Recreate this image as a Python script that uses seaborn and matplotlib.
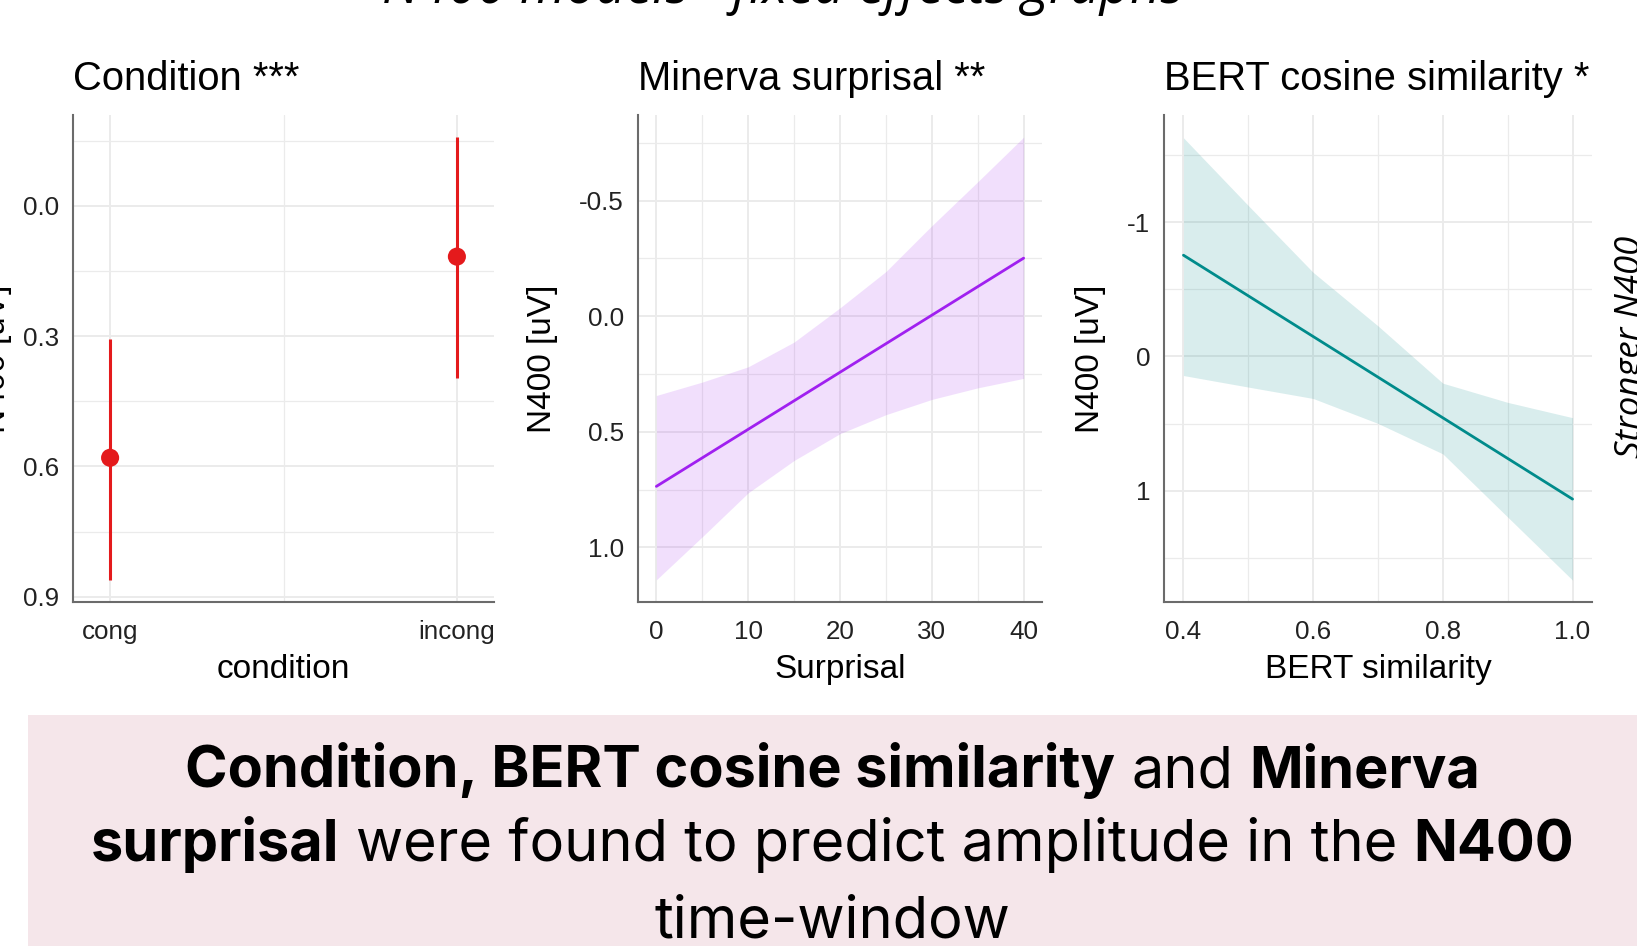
import numpy as np
import pandas as pd
import matplotlib
matplotlib.use("Agg")
import matplotlib.pyplot as plt
import seaborn as sns
from matplotlib.ticker import FixedLocator, FormatStrFormatter
from matplotlib.patches import Rectangle

# ---------------- data ----------------
conditions = ["cong", "incong"]
cond_estimate = [0.58, 0.117]
cond_ci_low = [0.306, -0.158]
cond_ci_high = [0.861, 0.396]

surprisal_fit_x = [0, 40]
surprisal_fit = [0.736, -0.251]
surprisal_x = [0, 5, 10, 15, 20, 25, 30, 35, 40]
surprisal_ci_a = [0.343, 0.285, 0.219, 0.112, -0.036, -0.193, -0.391, -0.581, -0.774]
surprisal_ci_b = [1.140, 0.954, 0.764, 0.624, 0.508, 0.426, 0.360, 0.310, 0.269]

bert_fit_x = [0.4, 1.0]
bert_fit = [-0.755, 1.063]
bert_x = [0.4, 0.5, 0.6, 0.7, 0.8, 0.9, 1.0]
bert_ci_a = [-1.630, -1.125, -0.627, -0.228, 0.199, 0.342, 0.456]
bert_ci_b = [0.142, 0.228, 0.313, 0.499, 0.726, 1.197, 1.667]

panel_titles = ["Condition ***", "Minerva surprisal **", "BERT cosine similarity *"]
x_titles = ["condition", "Surprisal", "BERT similarity"]
y_title = "N400 [uV]"
main_title = "N400 models - fixed effects graphs"
side_note = "Stronger N400"
summary_lines = [
    [("Condition, BERT cosine similarity", "bold"), ("and", "normal"), ("Minerva", "bold")],
    [("surprisal", "bold"), ("were found to predict amplitude in the", "normal"), ("N400", "bold")],
    [("time-window", "normal")],
]

# ---------------- style ----------------
sns.set_theme(style="white")
plt.rcParams['font.family'] = ['Liberation Sans', 'DejaVu Sans']
plt.rcParams['axes.unicode_minus'] = False

RED = "#E41A1C"
PURPLE = "#A020F0"
TEAL = "#008B8B"
GRID = "#EBEBEB"

W, H = 1637, 946
fig = plt.figure(figsize=(W / 100, H / 100), dpi=100)
fig.patch.set_facecolor("white")


def axrect(l, r, t, b):
    return [l / W, 1 - b / H, (r - l) / W, (b - t) / H]


bg = fig.add_axes([0, 0, 1, 1], zorder=-10)
bg.axis("off")
bg.set_xlim(0, W)
bg.set_ylim(H, 0)

ax1 = fig.add_axes(axrect(73, 494, 115, 602))
ax2 = fig.add_axes(axrect(638, 1042, 115, 602))
ax3 = fig.add_axes(axrect(1164, 1592, 115, 602))


def style(ax, title, xlabel):
    ax.set_facecolor("white")
    for s in ["top", "right"]:
        ax.spines[s].set_visible(False)
    for s in ["left", "bottom"]:
        ax.spines[s].set_color("#6b6b6b")
        ax.spines[s].set_linewidth(1.5)
    ax.grid(which="major", color=GRID, lw=1.4)
    ax.grid(which="minor", color=GRID, lw=0.9)
    ax.set_axisbelow(True)
    ax.tick_params(which="both", length=0, labelsize=18.7, labelcolor="#222222")
    ax.tick_params(axis="x", pad=13)
    ax.tick_params(axis="y", pad=10)
    ax.set_title(title, loc="left", fontsize=28.8, pad=18, color="black")
    ax.set_xlabel(xlabel, fontsize=24, labelpad=7, color="black")
    ax.set_ylabel("")


# ---- panel 1: condition ----
df1 = pd.DataFrame({"pos": np.arange(len(conditions)), "condition": conditions,
                    "estimate": cond_estimate, "low": cond_ci_low, "high": cond_ci_high})
ax1.vlines(df1["pos"], df1["low"], df1["high"], color=RED, lw=2.2, zorder=2)
sns.scatterplot(data=df1, x="pos", y="estimate", ax=ax1, color=RED, s=170,
                edgecolor="none", zorder=3, legend=False)
ax1.set_xlim(-0.107, 1.107)
ax1.set_ylim(0.912, -0.209)
ax1.xaxis.set_major_locator(FixedLocator(df1["pos"].tolist()))
ax1.set_xticklabels(conditions)
ax1.xaxis.set_minor_locator(FixedLocator([0.5]))
ax1.yaxis.set_major_locator(FixedLocator([0.0, 0.3, 0.6, 0.9]))
ax1.yaxis.set_minor_locator(FixedLocator([-0.15, 0.15, 0.45, 0.75]))
ax1.yaxis.set_major_formatter(FormatStrFormatter("%.1f"))
style(ax1, panel_titles[0], x_titles[0])

# ---- panel 2: surprisal ----
ax2.fill_between(surprisal_x, surprisal_ci_a, surprisal_ci_b, color=PURPLE, alpha=0.14, lw=0)
sns.lineplot(x=surprisal_fit_x, y=surprisal_fit, ax=ax2, color=PURPLE, lw=2.0)
ax2.set_xlim(-2, 42)
ax2.set_ylim(1.236, -0.87)
ax2.xaxis.set_major_locator(FixedLocator([0, 10, 20, 30, 40]))
ax2.xaxis.set_minor_locator(FixedLocator([5, 15, 25, 35]))
ax2.yaxis.set_major_locator(FixedLocator([-0.5, 0.0, 0.5, 1.0]))
ax2.yaxis.set_minor_locator(FixedLocator([-0.75, -0.25, 0.25, 0.75]))
ax2.xaxis.set_major_formatter(FormatStrFormatter("%d"))
ax2.yaxis.set_major_formatter(FormatStrFormatter("%.1f"))
style(ax2, panel_titles[1], x_titles[1])

# ---- panel 3: BERT ----
ax3.fill_between(bert_x, bert_ci_a, bert_ci_b, color=TEAL, alpha=0.15, lw=0)
sns.lineplot(x=bert_fit_x, y=bert_fit, ax=ax3, color=TEAL, lw=2.0)
ax3.set_xlim(0.37, 1.03)
ax3.set_ylim(1.83, -1.80)
ax3.xaxis.set_major_locator(FixedLocator([0.4, 0.6, 0.8, 1.0]))
ax3.xaxis.set_minor_locator(FixedLocator([0.5, 0.7, 0.9]))
ax3.yaxis.set_major_locator(FixedLocator([-1, 0, 1]))
ax3.yaxis.set_minor_locator(FixedLocator([-1.5, -0.5, 0.5, 1.5]))
ax3.xaxis.set_major_formatter(FormatStrFormatter("%.1f"))
ax3.yaxis.set_major_formatter(FormatStrFormatter("%d"))
style(ax3, panel_titles[2], x_titles[2])

# ---- y labels (placed in pixel coords) ----
for xc in [-3, 543, 1091]:
    bg.text(xc, 359, y_title, rotation=90, ha="center", va="center", fontsize=24, color="black")

# ---- top title (cut off at top edge) and side note ----
bg.text(783, 3, main_title, ha="center", va="baseline", fontsize=38,
        family=["Open Sans", "DejaVu Sans"], style="italic", color="black")
bg.text(1631, 347, side_note, rotation=90, ha="center", va="center", fontsize=25,
        family=["Open Sans", "DejaVu Sans"], style="italic", color="black")

# ---- summary box ----
bg.add_patch(Rectangle((28, 715), W - 28, H - 715, facecolor="#F5E6EA", edgecolor="none"))
renderer = fig.canvas.get_renderer()
FS = 41.5
FAM = ["Inter", "DejaVu Sans"]


def tw(s, weight):
    t = bg.text(0, 0, s, fontsize=FS, family=FAM, weight=weight)
    w = t.get_window_extent(renderer).width
    t.remove()
    return w


space_w = tw("n n", "normal") - tw("nn", "normal")
baselines = [787, 861, 937]
center_x = (28 + W) / 2
for line, yb in zip(summary_lines, baselines):
    widths = [tw(s, w) for s, w in line]
    total = sum(widths) + space_w * (len(line) - 1)
    x = center_x - total / 2
    for (s, w), wd in zip(line, widths):
        bg.text(x, yb, s, fontsize=FS, family=FAM, weight=w, ha="left", va="baseline", color="black")
        x += wd + space_w

fig.savefig("out.png", dpi=100)
